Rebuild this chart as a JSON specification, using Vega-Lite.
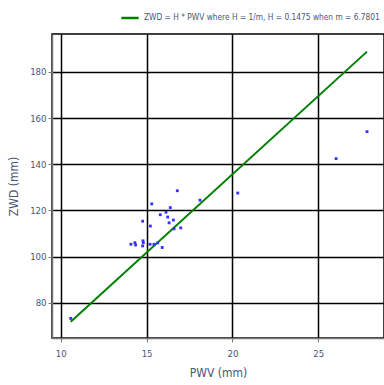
{
  "$schema": "https://vega.github.io/schema/vega-lite/v6.json",
  "width": 332,
  "height": 304,
  "autosize": {"type": "none"},
  "padding": {"left": 52, "top": 34, "right": 0, "bottom": 47},
  "background": "white",
  "config": {
    "view": {"stroke": "black", "strokeWidth": 1.5},
    "font": "DejaVu Sans Condensed, Liberation Sans Narrow, Liberation Sans, sans-serif",
    "axis": {
      "gridColor": "black",
      "gridWidth": 1.5,
      "gridOpacity": 1,
      "domainColor": "#777777",
      "domainWidth": 1.5,
      "tickColor": "#777777",
      "tickSize": 4,
      "labelColor": "#4a5677",
      "labelFontSize": 9.5,
      "titleColor": "#4a5677",
      "titleFontWeight": "normal",
      "titleFontSize": 12
    }
  },
  "datasets": {
    "obs": [
      {"PWV": 10.58, "ZWD": 73.2},
      {"PWV": 16.79, "ZWD": 128.5},
      {"PWV": 15.30, "ZWD": 122.8},
      {"PWV": 18.11, "ZWD": 124.4},
      {"PWV": 20.31, "ZWD": 127.5},
      {"PWV": 16.38, "ZWD": 121.2},
      {"PWV": 16.13, "ZWD": 119.2},
      {"PWV": 15.80, "ZWD": 118.1},
      {"PWV": 16.23, "ZWD": 117.1},
      {"PWV": 16.56, "ZWD": 115.8},
      {"PWV": 16.31, "ZWD": 114.6},
      {"PWV": 14.77, "ZWD": 115.3},
      {"PWV": 15.22, "ZWD": 113.2},
      {"PWV": 16.60, "ZWD": 112.0},
      {"PWV": 16.99, "ZWD": 112.4},
      {"PWV": 14.79, "ZWD": 106.8},
      {"PWV": 14.81, "ZWD": 106.0},
      {"PWV": 14.09, "ZWD": 105.3},
      {"PWV": 14.32, "ZWD": 106.0},
      {"PWV": 14.36, "ZWD": 105.0},
      {"PWV": 14.77, "ZWD": 104.6},
      {"PWV": 15.20, "ZWD": 105.3},
      {"PWV": 15.43, "ZWD": 105.3},
      {"PWV": 15.65, "ZWD": 105.9},
      {"PWV": 15.91, "ZWD": 103.9},
      {"PWV": 26.04, "ZWD": 142.4},
      {"PWV": 27.84, "ZWD": 154.1}
    ],
    "fit": [
      {"PWV": 10.58, "ZWD": 71.73, "series": "ZWD = H * PWV where H = 1/m, H = 0.1475 when m = 6.7801"},
      {"PWV": 27.84, "ZWD": 188.76, "series": "ZWD = H * PWV where H = 1/m, H = 0.1475 when m = 6.7801"}
    ]
  },
  "encoding": {
    "x": {
      "field": "PWV", "type": "quantitative",
      "scale": {"domain": [9.49, 28.83], "nice": false, "zero": false},
      "axis": {"title": "PWV (mm)", "values": [10, 15, 20, 25], "labelPadding": 6, "titlePadding": 10, "tickSize": 4}
    },
    "y": {
      "field": "ZWD", "type": "quantitative",
      "scale": {"domain": [64.7, 196.4], "nice": false, "zero": false},
      "axis": {"title": "ZWD (mm)", "values": [80, 100, 120, 140, 160, 180], "labelPadding": 2, "titlePadding": 9}
    }
  },
  "layer": [
    {
      "data": {"name": "fit"},
      "mark": {"type": "line", "strokeWidth": 2},
      "encoding": {
        "color": {
          "field": "series", "type": "nominal",
          "scale": {"range": ["#008000"]},
          "legend": {
            "title": null,
            "orient": "none",
            "legendX": 68,
            "legendY": -26,
            "symbolType": "stroke",
            "symbolSize": 300,
            "symbolStrokeWidth": 2.5,
            "labelFontSize": 8.3,
            "labelColor": "#4a5677",
            "labelLimit": 400
          }
        }
      }
    },
    {
      "data": {"name": "obs"},
      "mark": {"type": "square", "size": 8, "color": "#3333ff", "opacity": 1, "filled": true}
    }
  ]
}
